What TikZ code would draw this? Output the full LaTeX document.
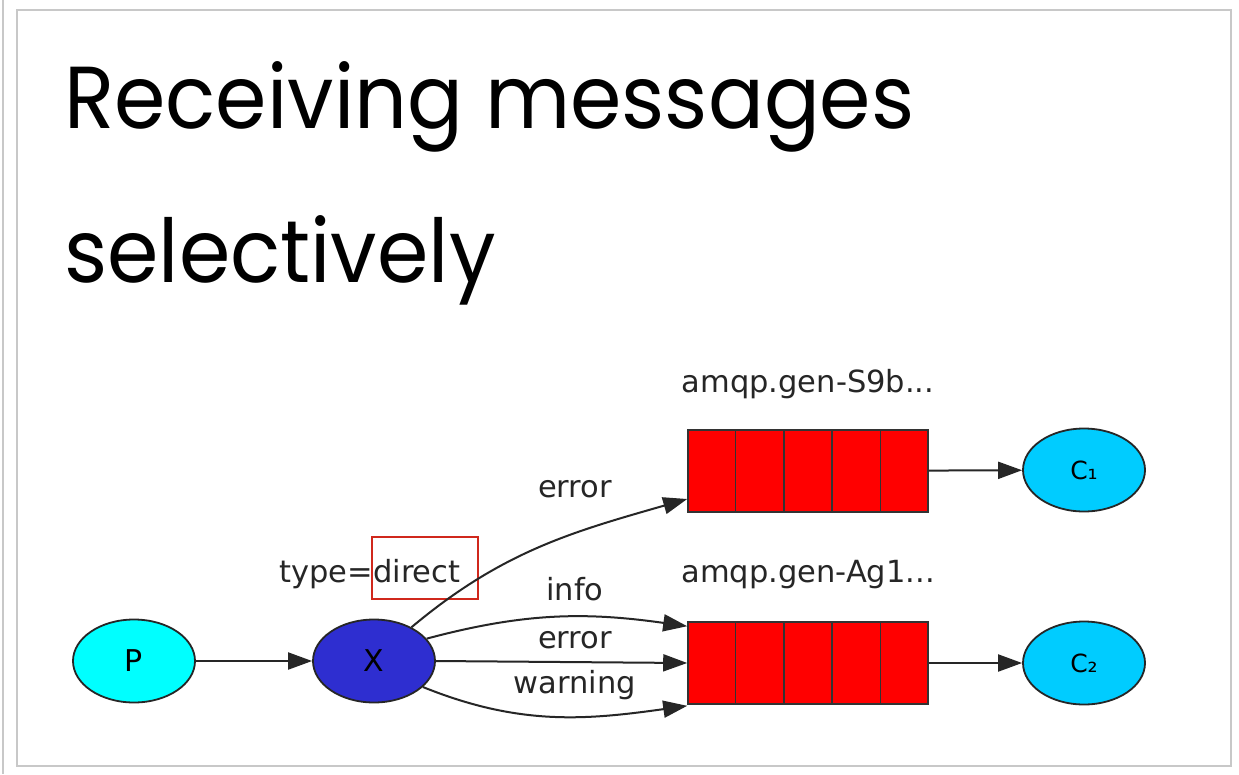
\documentclass[tikz,border=0pt]{standalone}
\usepackage{fontspec}
\usetikzlibrary{arrows.meta, positioning, calc, shapes.geometric}
\newfontfamily\titlefont[FakeStretch=0.94]{Poppins}
\newfontfamily\dotfont{DejaVu Sans}
\definecolor{prodcyan}{HTML}{00FFFF}
\definecolor{exblue}{HTML}{2E2ED0}
\definecolor{consblue}{HTML}{00CCFF}
\definecolor{qred}{HTML}{FF0000}
\definecolor{frame}{HTML}{C8C8C8}
\definecolor{markred}{HTML}{D0281C}
\definecolor{ink}{HTML}{262626}

\begin{document}
\begin{tikzpicture}[x=1pt, y=1pt,
  >={Triangle[length=24pt, width=17pt]},
  actor/.style={ellipse, draw=black!85, line width=1.8pt, minimum width=122pt,
                minimum height=83pt, inner sep=0pt, text=black,
                font=\dotfont\fontsize{30}{30}\selectfont},
  queue/.style={rectangle, draw=black!80, line width=1.6pt, fill=qred,
                minimum width=240pt, minimum height=82pt, inner sep=0pt},
  qname/.style={font=\dotfont\fontsize{30.5}{30}\selectfont, text=ink, anchor=base, inner sep=0pt},
  route/.style={font=\dotfont\fontsize{30.5}{30}\selectfont, text=ink, anchor=base, inner sep=0pt},
  link/.style={->, line width=2pt, ink},
  title/.style={font=\titlefont\fontsize{88}{88}\selectfont, anchor=base west, inner sep=0pt},
]

% Background and frame
\useasboundingbox (0,0) rectangle (1239,-774);
\fill[white] (0,0) rectangle (1239,-774);
\draw[frame, line width=2pt] (3,0) -- (3,-774);
\draw[frame, line width=2pt] (17,-10) rectangle (1231,-766);

% Title
\node[title] (title1) at (64,-128) {Receiving messages};
\node[title] (title2) at (64,-282) {selectively};

% === Producer and exchange ===
\node[actor, fill=prodcyan] (p) at (134,-661) {P};
\node[actor, fill=exblue] (x) at (374,-661) {X};
\node[route] (xtype) at ($(x.north)+(-4,36)$) {type=direct};
\node[draw=markred, line width=2.5pt, minimum width=106pt, minimum height=62pt,
      inner sep=0pt] (mark) at (425,-568) {};

\draw[link] (p) -- (x);

% === Queues ===
\node[queue] (q1) at (808,-471) {};
\node[queue] (q2) at (808,-663) {};
\foreach \q in {q1,q2}
  \foreach \k in {1,...,4}
    \draw[black!80, line width=1.5pt] ($(\q.north west)!\k/5!(\q.north east)$) -- ($(\q.south west)!\k/5!(\q.south east)$);

\node[qname] (q1name) at ($(q1.north)+(0,37)$) {amqp.gen-S9b...};
\node[qname] (q2name) at ($(q2.north)+(0,39)$) {amqp.gen-Ag1...};

% === Consumers ===
\node[actor, fill=consblue, font=\dotfont\fontsize{25}{25}\selectfont] (c1) at (1084,-470) {C₁};
\node[actor, fill=consblue, font=\dotfont\fontsize{25}{25}\selectfont] (c2) at (1084,-663) {C₂};

\draw[link] (q1) -- (c1);
\draw[link] (q2) -- (c2);

% === Bindings ===
\coordinate (q1in) at ($(q1.west)+(0,-28)$);
\coordinate (q2top) at ($(q2.north west)+(0,-5)$);
\coordinate (q2bot) at ($(q2.south west)+(0,-1)$);

\draw[link] (x.42) to[out=40, in=196] (q1in);
\draw[link] (x.23) to[out=15, in=172] (q2top);
\draw[link] (x.east) -- (q2.west);
\draw[link] (x.-28) to[out=-22, in=188] (q2bot);

\node[route] (l1) at (575,-497) {error};
\node[route] (l2) at (575,-600) {info};
\node[route] (l3) at (575,-648) {error};
\node[route] (l4) at (575,-693) {warning};

\end{tikzpicture}
\end{document}
